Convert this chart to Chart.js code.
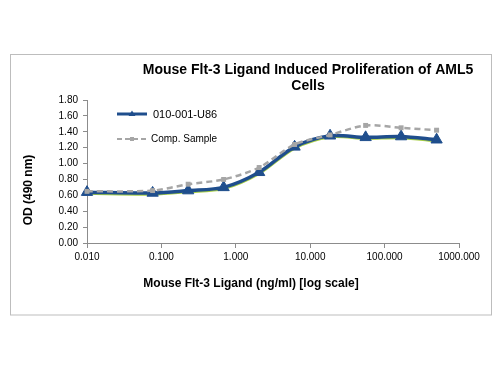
<!DOCTYPE html>
<html>
<head>
<meta charset="utf-8">
<script src="https://cdn.jsdelivr.net/npm/chart.js@4"></script>
<style>
html,body{margin:0;padding:0;background:#fff;}
#wrap{width:500px;height:375px;position:relative;}
</style>
</head>
<body>
<div id="wrap"><canvas id="c" width="500" height="375"></canvas></div>
<script>
const concentrations = [0.01, 0.0762, 0.229, 0.686, 2.06, 6.17, 18.5, 55.6, 166.7, 500];
const seriesU86 = [0.64, 0.63, 0.66, 0.70, 0.89, 1.21, 1.35, 1.33, 1.34, 1.30];
const seriesU86Shadow = [0.625, 0.615, 0.645, 0.685, 0.875, 1.195, 1.335, 1.315, 1.325, 1.285];
const seriesComp = [0.65, 0.66, 0.74, 0.80, 0.95, 1.24, 1.36, 1.48, 1.45, 1.42];
const xTickValues = [0.01, 0.1, 1, 10, 100, 1000];
const seriesNames = ["010-001-U86", "Comp. Sample"];
const titleLines = ["Mouse Flt-3 Ligand Induced Proliferation of AML5", "Cells"];
const xTitle = "Mouse Flt-3 Ligand (ng/ml) [log scale]";
const yTitle = "OD (490 nm)";

const FONT = "'Liberation Sans', Arial, sans-serif";
const BLUE = "#1f4e8d";
const GRAY = "#a6a6a6";
const GREEN = "#a8cf45";

function pts(ys){ return concentrations.map((x,i)=>({x:x,y:ys[i]})); }

const decor = {
  id:'decor',
  beforeDraw(chart){
    const ctx = chart.ctx;
    ctx.save();
    ctx.fillStyle = '#fff';
    ctx.fillRect(0,0,chart.width,chart.height);
    ctx.strokeStyle = '#bdbdbd';
    ctx.lineWidth = 1;
    ctx.strokeRect(10.5,54.5,481,260.5);
    ctx.restore();
  },
  afterDraw(chart){
    const ctx = chart.ctx;
    ctx.save();
    ctx.fillStyle = '#000';
    ctx.textAlign = 'center';
    ctx.textBaseline = 'middle';
    ctx.font = "bold 14px " + FONT;
    ctx.fillText(titleLines[0], 308, 70);
    ctx.fillText(titleLines[1], 308, 86);
    ctx.font = "bold 12px " + FONT;
    ctx.fillText(xTitle, 251, 284);
    ctx.save();
    ctx.translate(29, 190);
    ctx.rotate(-Math.PI/2);
    ctx.fillText(yTitle, 0, 0);
    ctx.restore();
    // legend
    ctx.textAlign = 'left';
    ctx.lineWidth = 3;
    ctx.strokeStyle = BLUE;
    ctx.beginPath(); ctx.moveTo(117,114); ctx.lineTo(147,114); ctx.stroke();
    ctx.fillStyle = BLUE;
    ctx.beginPath(); ctx.moveTo(132,110.5); ctx.lineTo(135.5,116); ctx.lineTo(128.5,116); ctx.closePath(); ctx.fill();
    ctx.fillStyle = '#000';
    ctx.font = "11px " + FONT;
    ctx.fillText(seriesNames[0], 153, 114.5);
    ctx.lineWidth = 2;
    ctx.strokeStyle = GRAY;
    ctx.setLineDash([5,3]);
    ctx.beginPath(); ctx.moveTo(117,139); ctx.lineTo(147,139); ctx.stroke();
    ctx.setLineDash([]);
    ctx.fillStyle = GRAY;
    ctx.fillRect(130,137,4,4);
    ctx.fillStyle = '#000';
    ctx.font = "10px " + FONT;
    ctx.fillText(seriesNames[1], 151, 139.5);
    ctx.restore();
  }
};

new Chart(document.getElementById('c'), {
  type: 'line',
  data: {
    datasets: [
      { label: seriesNames[1], data: pts(seriesComp), borderColor: GRAY, backgroundColor: GRAY,
        borderWidth: 2.5, borderDash:[6,4], pointStyle:'rect', pointRadius:3.5, pointBorderWidth:0,
        tension:0.3, order:1, clip:false },
      { label: seriesNames[0], data: pts(seriesU86), borderColor: BLUE, backgroundColor: BLUE,
        borderWidth: 3.5, pointStyle:'triangle', pointRadius:6.5, pointBorderWidth:1, pointBorderColor: BLUE,
        tension:0.3, order:2, clip:false },
      { label: 'shadow', data: pts(seriesU86Shadow), borderColor: GREEN, backgroundColor: GREEN,
        borderWidth: 3, pointRadius:0, tension:0.3, order:3, clip:false }
    ]
  },
  options: {
    responsive:false,
    animation:false,
    devicePixelRatio:1,
    layout:{padding:{left:0,right:41,top:100,bottom:0}},
    plugins:{legend:{display:false}, title:{display:false}, tooltip:{enabled:false}},
    scales:{
      x:{
        type:'logarithmic', min:0.01, max:1000,
        afterBuildTicks(s){ s.ticks = xTickValues.map(v=>({value:v})); },
        afterFit(s){ s.height = 132; },
        border:{display:true, color:'#8c8c8c', width:1},
        grid:{display:true, drawOnChartArea:false, drawTicks:true, tickLength:5, color:'#8c8c8c'},
        ticks:{autoSkip:false, maxRotation:0, padding:3, color:'#000',
          font:{family:FONT, size:10},
          callback:(v)=>Number(v).toFixed(3)}
      },
      y:{
        min:0, max:1.8,
        afterFit(s){ s.width = 87; },
        border:{display:true, color:'#8c8c8c', width:1},
        grid:{display:true, drawOnChartArea:false, drawTicks:true, tickLength:4, color:'#8c8c8c'},
        ticks:{stepSize:0.2, padding:5, color:'#000', font:{family:FONT, size:10},
          callback:(v)=>Number(v).toFixed(2)}
      }
    }
  },
  plugins:[decor]
});
</script>
</body>
</html>
